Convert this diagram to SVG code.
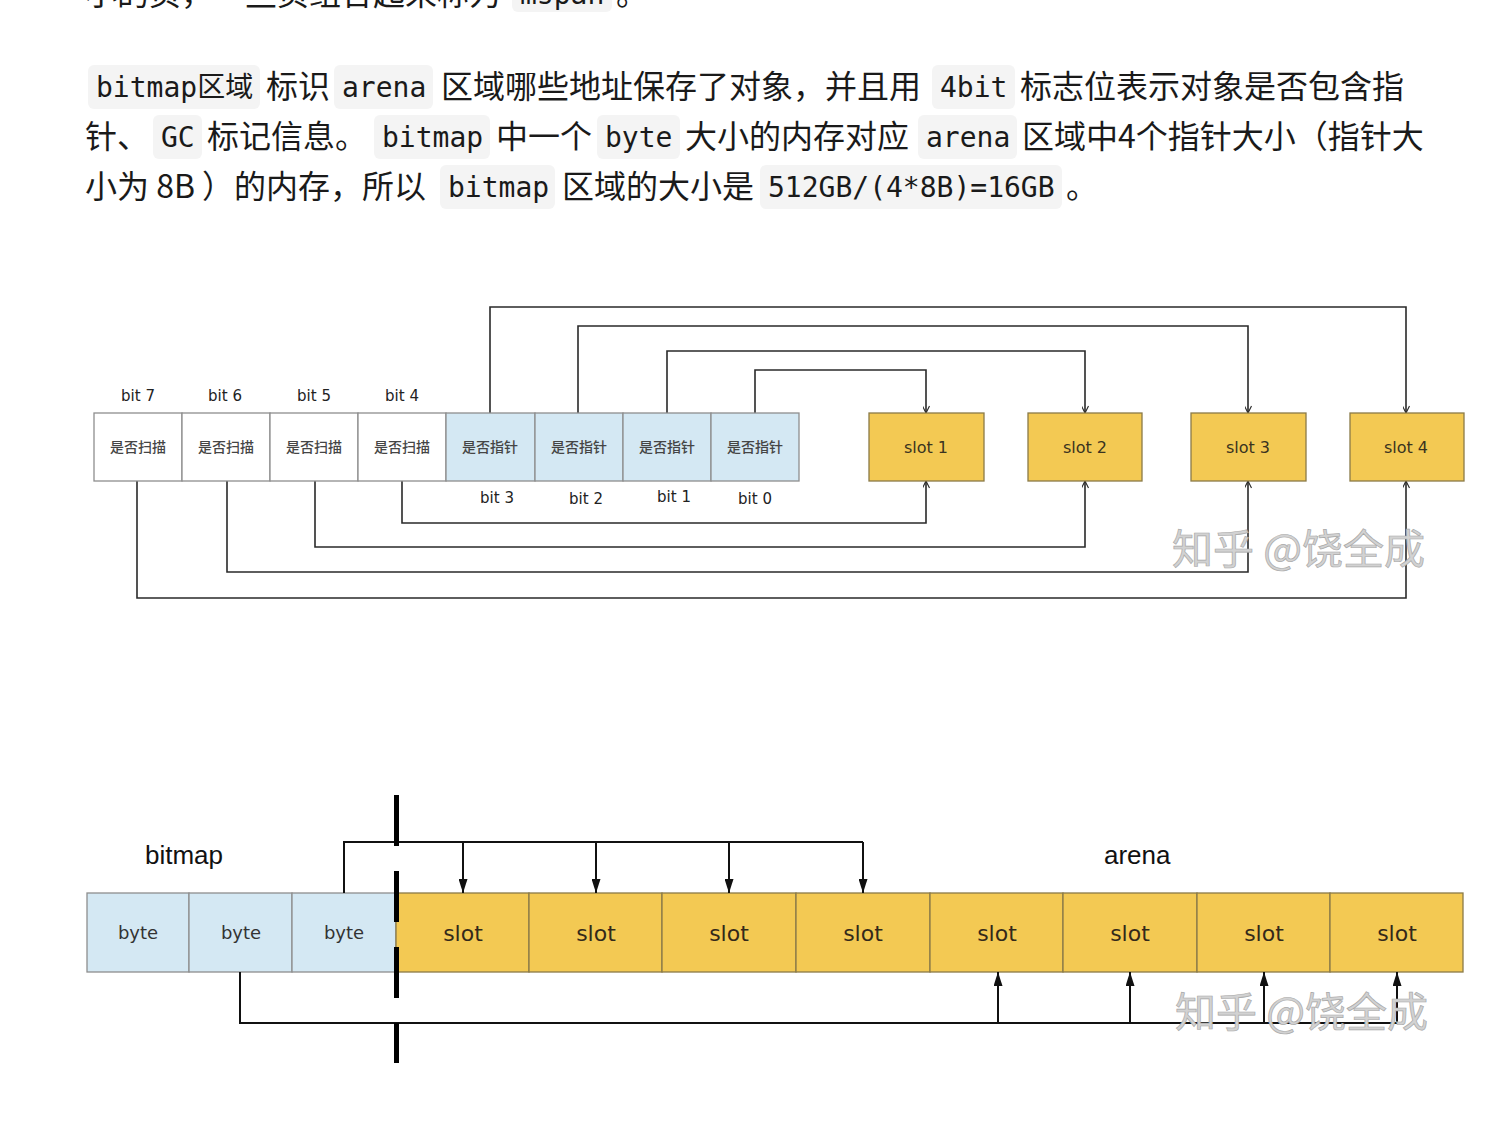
<svg xmlns="http://www.w3.org/2000/svg" width="1508" height="1140" viewBox="0 0 1508 1140">
<style>
.p{font-family:"Noto Sans CJK SC","Noto Sans",sans-serif;font-size:32px;fill:#1a1a1a}
.c{font-family:"DejaVu Sans Mono","Noto Sans CJK SC",monospace;font-size:28px;fill:#1a1a1a}
.cb{fill:#f4f4f4}
.lbl{font-family:"DejaVu Sans","Noto Sans",sans-serif;font-size:15px;fill:#222;text-anchor:middle}
.cell{stroke:#8e8e8e;stroke-width:1.3}
.w{fill:#ffffff}
.b{fill:#d4e8f3}
.g{fill:#f3c953;stroke:#8a7a48;stroke-width:1.3}
.cz{font-family:"Noto Sans CJK SC",sans-serif;font-size:14px;font-weight:500;fill:#454545;text-anchor:middle}
.st{font-family:"DejaVu Sans","Noto Sans",sans-serif;font-size:16px;fill:#3a3320;text-anchor:middle}
.ln{fill:none;stroke:#2a2a2a;stroke-width:1.6}
.ln2{fill:none;stroke:#111;stroke-width:2}
.big{font-family:"Liberation Sans",Arial,sans-serif;font-size:26px;fill:#111}
.by{font-family:"DejaVu Sans","Noto Sans",sans-serif;font-size:18px;fill:#333;text-anchor:middle}
.sl{font-family:"DejaVu Sans","Noto Sans",sans-serif;font-size:22px;fill:#33291a;text-anchor:middle}
.wm{font-family:"Noto Sans CJK SC",sans-serif;font-size:41px;fill:#d2d2d2;stroke:#a9a9a9;stroke-width:0.7}
</style>
<defs>
<marker id="open" viewBox="0 0 10 10" refX="10" refY="5" markerWidth="9" markerHeight="7" markerUnits="userSpaceOnUse" orient="auto">
<path d="M0,0 L10,5 L0,10" fill="none" stroke="#2a2a2a" stroke-width="1.6"/>
</marker>
<marker id="fill" viewBox="0 0 14 9" refX="14" refY="4.5" markerWidth="14" markerHeight="9" markerUnits="userSpaceOnUse" orient="auto">
<path d="M0,0 L14,4.5 L0,9 z" fill="#111"/>
</marker>
</defs>
<rect width="1508" height="1140" fill="#ffffff"/>

<g id="text">
<text class="p" x="85" y="5">小的页，一些页组合起来称为</text>
<rect class="cb" x="512" y="-32" width="100" height="44" rx="6"/>
<text class="c" x="520" y="4">mspan</text>
<text class="p" x="616" y="5">。</text>

<rect class="cb" x="88" y="65" width="172" height="44" rx="6"/>
<text class="c" x="96" y="97">bitmap区域</text>
<text class="p" x="266" y="98">标识</text>
<rect class="cb" x="334" y="65" width="99" height="44" rx="6"/>
<text class="c" x="342" y="97">arena</text>
<text class="p" x="441" y="98">区域哪些地址保存了对象，并且用</text>
<rect class="cb" x="932" y="65" width="83" height="44" rx="6"/>
<text class="c" x="940" y="97">4bit</text>
<text class="p" x="1020" y="98">标志位表示对象是否包含指</text>

<text class="p" x="85" y="148">针、</text>
<rect class="cb" x="153" y="115" width="49" height="44" rx="6"/>
<text class="c" x="161" y="147">GC</text>
<text class="p" x="207" y="148">标记信息。</text>
<rect class="cb" x="374" y="115" width="116" height="44" rx="6"/>
<text class="c" x="382" y="147">bitmap</text>
<text class="p" x="496" y="148">中一个</text>
<rect class="cb" x="597" y="115" width="83" height="44" rx="6"/>
<text class="c" x="605" y="147">byte</text>
<text class="p" x="685" y="148">大小的内存对应</text>
<rect class="cb" x="918" y="115" width="99" height="44" rx="6"/>
<text class="c" x="926" y="147">arena</text>
<text class="p" x="1022" y="148">区域中4个指针大小（指针大</text>

<text class="p" x="85" y="198">小为 8B ）的内存，所以</text>
<rect class="cb" x="440" y="165" width="115" height="44" rx="6"/>
<text class="c" x="448" y="197">bitmap</text>
<text class="p" x="562" y="198">区域的大小是</text>
<rect class="cb" x="760" y="165" width="302" height="44" rx="6"/>
<text class="c" x="768" y="197">512GB/(4*8B)=16GB</text>
<text class="p" x="1066" y="198">。</text>
</g>

<g id="connectors-top">
<path class="ln" d="M490,413 V307 H1406 V413" marker-end="url(#open)"/>
<path class="ln" d="M578,413 V326 H1248 V413" marker-end="url(#open)"/>
<path class="ln" d="M667,413 V351 H1085 V413" marker-end="url(#open)"/>
<path class="ln" d="M755,413 V370 H926 V413" marker-end="url(#open)"/>
<path class="ln" d="M402,481 V523 H926 V481" marker-end="url(#open)"/>
<path class="ln" d="M315,481 V547 H1085 V481" marker-end="url(#open)"/>
<path class="ln" d="M227,481 V572 H1248 V481" marker-end="url(#open)"/>
<path class="ln" d="M137,481 V598 H1406 V481" marker-end="url(#open)"/>
</g>

<g id="bit7"><text class="lbl" x="138" y="401">bit 7</text><rect class="cell w" x="94" y="413" width="88" height="68"/><text class="cz" x="138" y="452">是否扫描</text></g>
<g id="bit6"><text class="lbl" x="225" y="401">bit 6</text><rect class="cell w" x="182" y="413" width="88" height="68"/><text class="cz" x="226" y="452">是否扫描</text></g>
<g id="bit5"><text class="lbl" x="314" y="401">bit 5</text><rect class="cell w" x="270" y="413" width="88" height="68"/><text class="cz" x="314" y="452">是否扫描</text></g>
<g id="bit4"><text class="lbl" x="402" y="401">bit 4</text><rect class="cell w" x="358" y="413" width="88" height="68"/><text class="cz" x="402" y="452">是否扫描</text></g>
<g id="bit3"><rect class="cell b" x="446" y="413" width="89" height="68"/><text class="cz" x="490" y="452">是否指针</text><text class="lbl" x="497" y="503">bit 3</text></g>
<g id="bit2"><rect class="cell b" x="535" y="413" width="88" height="68"/><text class="cz" x="579" y="452">是否指针</text><text class="lbl" x="586" y="504">bit 2</text></g>
<g id="bit1"><rect class="cell b" x="623" y="413" width="88" height="68"/><text class="cz" x="667" y="452">是否指针</text><text class="lbl" x="674" y="502">bit 1</text></g>
<g id="bit0"><rect class="cell b" x="711" y="413" width="88" height="68"/><text class="cz" x="755" y="452">是否指针</text><text class="lbl" x="755" y="504">bit 0</text></g>

<g id="slot1"><rect class="g" x="869" y="413" width="115" height="68"/><text class="st" x="926" y="453">slot 1</text></g>
<g id="slot2"><rect class="g" x="1028" y="413" width="114" height="68"/><text class="st" x="1085" y="453">slot 2</text></g>
<g id="slot3"><rect class="g" x="1191" y="413" width="115" height="68"/><text class="st" x="1248" y="453">slot 3</text></g>
<g id="slot4"><rect class="g" x="1350" y="413" width="114" height="68"/><text class="st" x="1406" y="453">slot 4</text></g>

<text class="wm" x="1172" y="564">知乎 @饶全成</text>

<g id="labels-bottom">
<text class="big" x="145" y="864">bitmap</text>
<text class="big" x="1104" y="864">arena</text>
</g>

<g id="byte1"><rect class="cell b" x="87" y="893" width="102" height="79"/><text class="by" x="138" y="939">byte</text></g>
<g id="byte2"><rect class="cell b" x="189" y="893" width="103" height="79"/><text class="by" x="241" y="939">byte</text></g>
<g id="byte3"><rect class="cell b" x="292" y="893" width="104" height="79"/><text class="by" x="344" y="939">byte</text></g>

<g id="aslot1"><rect class="g" x="396" y="893" width="133" height="79"/><text class="sl" x="463" y="941">slot</text></g>
<g id="aslot2"><rect class="g" x="529" y="893" width="133" height="79"/><text class="sl" x="596" y="941">slot</text></g>
<g id="aslot3"><rect class="g" x="662" y="893" width="134" height="79"/><text class="sl" x="729" y="941">slot</text></g>
<g id="aslot4"><rect class="g" x="796" y="893" width="134" height="79"/><text class="sl" x="863" y="941">slot</text></g>
<g id="aslot5"><rect class="g" x="930" y="893" width="133" height="79"/><text class="sl" x="997" y="941">slot</text></g>
<g id="aslot6"><rect class="g" x="1063" y="893" width="134" height="79"/><text class="sl" x="1130" y="941">slot</text></g>
<g id="aslot7"><rect class="g" x="1197" y="893" width="133" height="79"/><text class="sl" x="1264" y="941">slot</text></g>
<g id="aslot8"><rect class="g" x="1330" y="893" width="133" height="79"/><text class="sl" x="1397" y="941">slot</text></g>

<g id="connectors-bottom">
<path class="ln2" d="M344,893 V842 H863"/>
<path class="ln2" d="M463,842 V893" marker-end="url(#fill)"/>
<path class="ln2" d="M596,842 V893" marker-end="url(#fill)"/>
<path class="ln2" d="M729,842 V893" marker-end="url(#fill)"/>
<path class="ln2" d="M863,842 V893" marker-end="url(#fill)"/>
<path class="ln2" d="M240,972 V1023 H1397"/>
<path class="ln2" d="M998,1023 V972" marker-end="url(#fill)"/>
<path class="ln2" d="M1130,1023 V972" marker-end="url(#fill)"/>
<path class="ln2" d="M1264,1023 V972" marker-end="url(#fill)"/>
<path class="ln2" d="M1397,1023 V972" marker-end="url(#fill)"/>
</g>

<line id="divider" x1="396.5" y1="795" x2="396.5" y2="1063" stroke="#000" stroke-width="5" stroke-dasharray="51 25"/>

<text class="wm" x="1175" y="1027">知乎 @饶全成</text>
</svg>
